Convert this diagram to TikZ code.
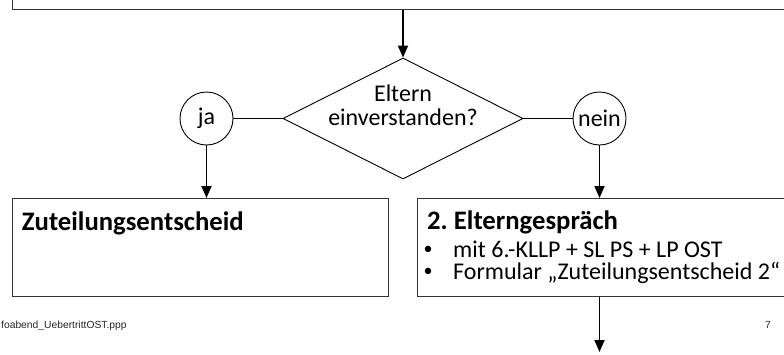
\documentclass[tikz,border=0pt]{standalone}
\usepackage{fontspec}
\setmainfont{Carlito}
\newfontfamily\footfont{Liberation Sans}
\usetikzlibrary{shapes.geometric,arrows.meta}
\frenchspacing
\begin{document}
\begin{tikzpicture}[x=1pt,y=-1pt,
  box/.style={draw=black!80, line width=1.2pt, inner sep=0pt, rectangle},
  flow/.style={-{Triangle[length=12pt,width=10pt]}, line width=1.8pt},
  thinline/.style={line width=0.9pt},
  body/.style={font=\fontsize{24}{28}\selectfont, inner sep=0pt, anchor=base west},
  head/.style={font=\fontsize{26.7}{32}\selectfont\bfseries, inner sep=0pt, anchor=base west},
  dot/.style={font=\fontsize{18}{20}\selectfont, inner sep=0pt},
  foot/.style={font=\footfont\fontsize{10.3}{12}\selectfont, text=black!85, inner sep=0pt}
]
\useasboundingbox (0,0) rectangle (784,354);
\clip (0,0) rectangle (784,354);

% boxes
\node[box, minimum width=800pt, minimum height=60pt, anchor=south west] (top) at (12,10) {};
\node[box, minimum width=376pt, minimum height=98pt, anchor=north west] (lbox) at (12,198) {};
\node[box, minimum width=400pt, minimum height=98pt, anchor=north west] (rbox) at (416.5,198) {};

% decision
\node[diamond, draw, thinline, minimum width=240pt, minimum height=121pt, inner sep=0pt] (dec) at (403,118.5) {};
\node[body, anchor=base] (t1) at (403,101) {Eltern};
\node[body, anchor=base] (t2) at (403,125) {einverstanden?};

\node[circle, draw, thinline, minimum size=53pt, inner sep=0pt, font=\fontsize{24}{28}\selectfont] (ja) at (206.5,118.5) {ja};
\node[circle, draw, thinline, minimum size=53pt, inner sep=0pt, font=\fontsize{24}{28}\selectfont] (nein) at (599.5,118.5) {nein};

% connectors
\draw[flow] (dec.north |- top.south) -- (dec.north);
\draw[thinline] (ja.east) -- (dec.west);
\draw[thinline] (dec.east) -- (nein.west);
\draw[flow] (ja.south) -- (ja.south |- lbox.north);
\draw[flow] (nein.south) -- (nein.south |- rbox.north);
\coordinate (end) at (599.5,352);
\draw[flow] (end |- rbox.south) -- (end);

% box texts
\node[head] (zt) at (21.7,230) {Zuteilungsentscheid};
\node[head] (eg) at (427,229) {2. Elterngespräch};
\node[dot] (d1) at (428,250) {•};
\node[body] (l1) at (453,257) {mit 6.-KLLP + SL PS + LP OST};
\node[dot] (d2) at (428,272) {•};
\node[body] (l2) at (453,279) {Formular „Zuteilungsentscheid 2“};

% footer
\node[foot, anchor=base west] (file) at (1,328) {foabend\_UebertrittOST.ppp};
\node[foot, anchor=base] (pg) at (768,328) {7};
\end{tikzpicture}
\end{document}
